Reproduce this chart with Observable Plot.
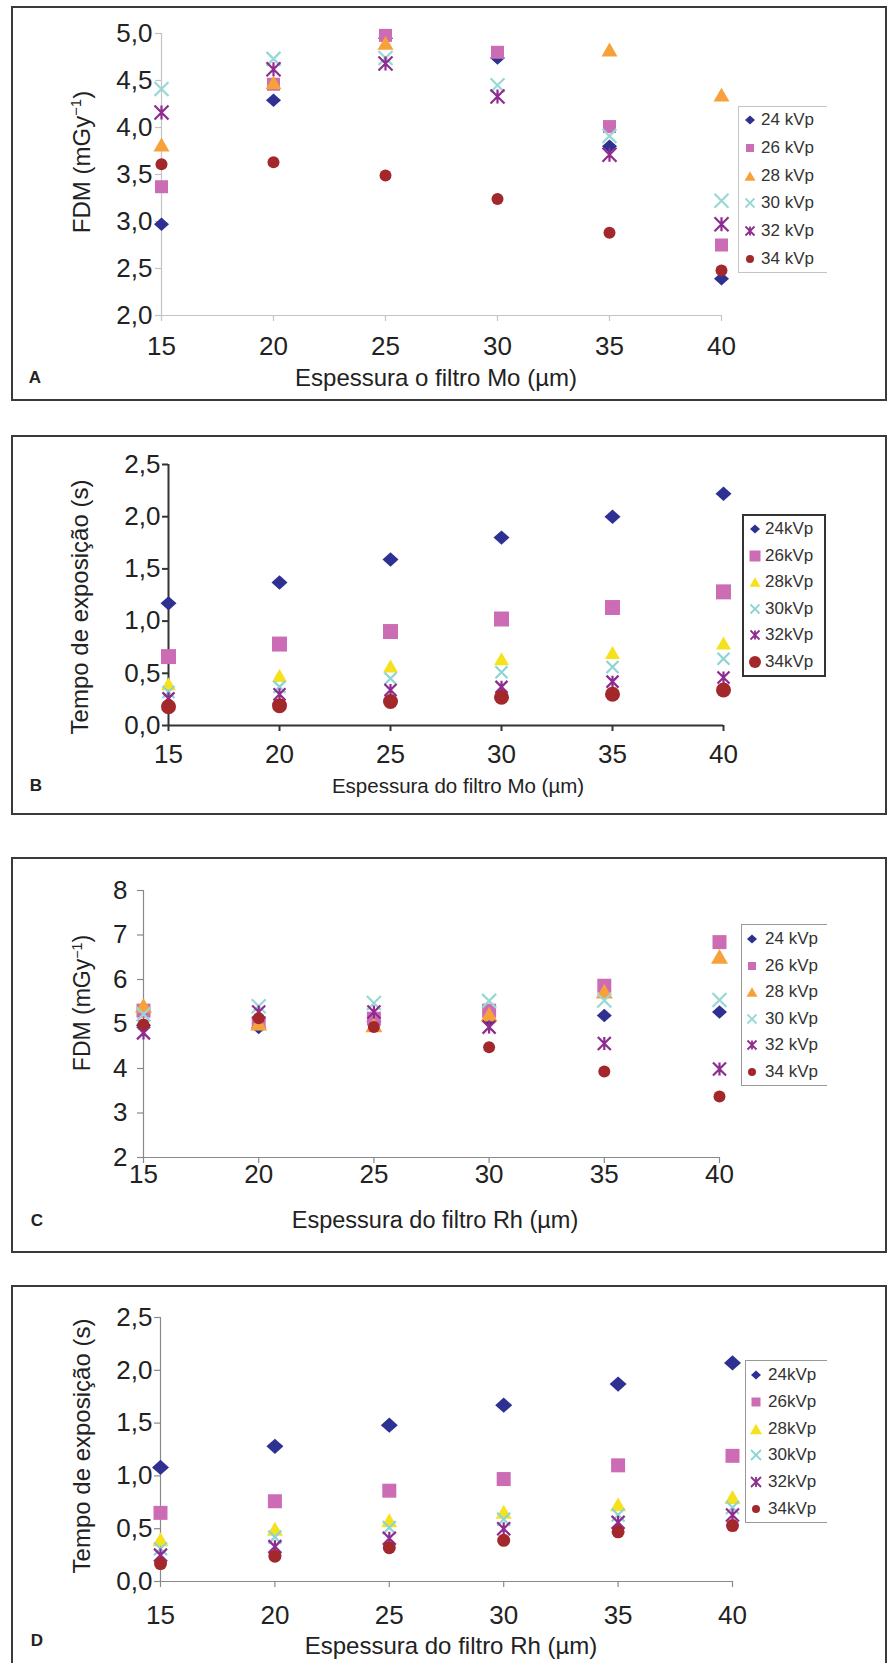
<!DOCTYPE html>
<html>
<head>
<meta charset="utf-8">
<script src="https://cdn.jsdelivr.net/npm/d3@7"></script>
<script src="https://cdn.jsdelivr.net/npm/@observablehq/plot@0.6"></script>
<style>
  html, body { margin: 0; padding: 0; background: #fff; }
  #page { position: relative; width: 888px; height: 1663px; overflow: hidden;
          font-family: "Liberation Sans", Arial, sans-serif; color: #222; }
  .box { position: absolute; border: 2px solid #3a3a3a; box-sizing: border-box; }
  .plotwrap { position: absolute; left: 0; }
  .abs { position: absolute; white-space: nowrap; line-height: 1.1; }
  .ytitle { transform: translate(-50%, -50%) rotate(-90deg); }
  .xtitle { transform: translate(-50%, -50%); }
  .letter { transform: translate(-50%, -50%); font-weight: bold; font-size: 17px; }
  .legbox { position: absolute; box-sizing: border-box; }
  .legtxt { position: absolute; transform: translateY(-50%); font-size: 17px; color: #333; white-space: nowrap; line-height: 1.1; }
  sup { font-size: 0.62em; vertical-align: 0.6em; line-height: 0; }
</style>
</head>
<body>
<div id="page"></div>
<script>
// ---------------- DATA ----------------
const thickness = [15, 20, 25, 30, 35, 40];
const kvpLabels = ["24 kVp", "26 kVp", "28 kVp", "30 kVp", "32 kVp", "34 kVp"];
const kvpLabelsCompact = ["24kVp", "26kVp", "28kVp", "30kVp", "32kVp", "34kVp"];

// A: FDM (mGy^-1) vs Mo filter thickness
const fdmMo24 = [2.97, 4.29, 4.95, 4.74, 3.80, 2.39];
const fdmMo26 = [3.37, 4.46, 4.98, 4.80, 4.01, 2.75];
const fdmMo28 = [3.82, 4.48, 4.90, null, 4.83, 4.35];
const fdmMo30 = [4.41, 4.73, 4.74, 4.45, 3.91, 3.22];
const fdmMo32 = [4.16, 4.62, 4.68, 4.33, 3.71, 2.97];
const fdmMo34 = [3.61, 3.63, 3.49, 3.24, 2.88, 2.48];

// B: exposure time (s) vs Mo filter thickness
const timeMo24 = [1.17, 1.37, 1.59, 1.80, 2.00, 2.22];
const timeMo26 = [0.66, 0.78, 0.90, 1.02, 1.13, 1.28];
const timeMo28 = [0.40, 0.48, 0.57, 0.64, 0.70, 0.79];
const timeMo30 = [0.32, 0.37, 0.45, 0.51, 0.56, 0.64];
const timeMo32 = [0.26, 0.30, 0.34, 0.37, 0.42, 0.46];
const timeMo34 = [0.18, 0.19, 0.23, 0.27, 0.30, 0.34];

// C: FDM (mGy^-1) vs Rh filter thickness
const fdmRh24 = [4.97, 4.92, 5.05, 5.08, 5.19, 5.27];
const fdmRh26 = [5.30, 5.02, 5.12, 5.30, 5.86, 6.84];
const fdmRh28 = [5.42, 5.02, 4.98, 5.22, 5.74, 6.52];
const fdmRh30 = [5.22, 5.40, 5.47, 5.52, 5.53, 5.54];
const fdmRh32 = [4.80, 5.27, 5.27, 4.93, 4.56, 3.99];
const fdmRh34 = [4.99, 5.13, 4.93, 4.48, 3.93, 3.37];

// D: exposure time (s) vs Rh filter thickness
const timeRh24 = [1.08, 1.28, 1.48, 1.67, 1.87, 2.07];
const timeRh26 = [0.65, 0.76, 0.86, 0.97, 1.10, 1.19];
const timeRh28 = [0.40, 0.50, 0.58, 0.66, 0.73, 0.80];
const timeRh30 = [0.31, 0.42, 0.51, 0.59, 0.63, 0.70];
const timeRh32 = [0.25, 0.33, 0.41, 0.50, 0.56, 0.63];
const timeRh34 = [0.17, 0.24, 0.32, 0.39, 0.47, 0.53];

const yTicksFdmMo = [2.0, 2.5, 3.0, 3.5, 4.0, 4.5, 5.0];
const yTicksTime = [0.0, 0.5, 1.0, 1.5, 2.0, 2.5];
const yTicksFdmRh = [2, 3, 4, 5, 6, 7, 8];

// ---------------- STYLE ----------------
const colorsOrange = ["#2e3192", "#cc6cb5", "#f7a13a", "#98d8d4", "#8e2c8f", "#a3282b"];
const colorsYellow = ["#2e3192", "#cc6cb5", "#f6e11e", "#8fd4d4", "#8e2c8f", "#a3282b"];
const kinds = ["diamond", "square", "triangle", "times", "star", "circle"];

function unit(size) { return Math.sqrt(size / Math.PI); }
const SYM = {
  diamond: { draw(c, size) { const s = unit(size), v = s * 0.9; c.moveTo(0, -v); c.lineTo(s, 0); c.lineTo(0, v); c.lineTo(-s, 0); c.closePath(); } },
  square: { draw(c, size) { const s = unit(size); c.moveTo(-s, -s); c.lineTo(s, -s); c.lineTo(s, s); c.lineTo(-s, s); c.closePath(); } },
  triangle: { draw(c, size) { const s = unit(size), h = s * 0.87; c.moveTo(0, -h); c.lineTo(s, h); c.lineTo(-s, h); c.closePath(); } },
  times: { draw(c, size) { const s = unit(size); c.moveTo(-s, -s); c.lineTo(s, s); c.moveTo(-s, s); c.lineTo(s, -s); } },
  star: { draw(c, size) { const s = unit(size); c.moveTo(-s, -s); c.lineTo(s, s); c.moveTo(-s, s); c.lineTo(s, -s); c.moveTo(0, -s); c.lineTo(0, s); } },
  circle: { draw(c, size) { const s = unit(size); c.moveTo(s, 0); c.arc(0, 0, s, 0, 2 * Math.PI); c.closePath(); } }
};
const isStroked = k => k === "times" || k === "star";
const commaFmt = d => d3.format(".1f")(d).replace(".", ",");

const page = document.getElementById("page");

function addDiv(cls, html, styles) {
  const d = document.createElement("div");
  d.className = cls;
  d.innerHTML = html;
  Object.assign(d.style, styles);
  page.appendChild(d);
  return d;
}

function panel(cfg) {
  addDiv("box", "", { left: "11px", top: cfg.boxTop + "px", width: (888 - 11 - 1) + "px", height: (cfg.boxBottom - cfg.boxTop) + "px" });

  const svgH = cfg.boxBottom - cfg.boxTop;
  const xFirst = thickness[0], xLast = thickness[thickness.length - 1];
  const marks = [
    Plot.ruleX([xFirst], { y1: cfg.yDomain[0], y2: cfg.yDomain[1], stroke: cfg.axisColor, strokeWidth: cfg.axisWidth }),
    Plot.ruleY([cfg.yDomain[0]], { x1: xFirst, x2: xLast, stroke: cfg.axisColor, strokeWidth: cfg.axisWidth }),
    Plot.axisX({ ticks: thickness, tickFormat: d => String(d), tickSize: 6, tickPadding: cfg.padX,
                 fontSize: cfg.tickFont, color: "#222", stroke: cfg.axisColor, strokeWidth: cfg.axisWidth, label: null }),
    Plot.axisY({ ticks: cfg.yTicks, tickFormat: cfg.yFmt, tickSize: 6, tickPadding: cfg.padY,
                 fontSize: cfg.tickFont, color: "#222", stroke: cfg.axisColor, strokeWidth: cfg.axisWidth, label: null })
  ];
  cfg.series.forEach((vals, i) => {
    const rows = thickness.map((x, j) => ({ x, y: vals[j] })).filter(d => d.y != null);
    const k = kinds[i];
    marks.push(Plot.dot(rows, {
      x: "x", y: "y", symbol: SYM[k], r: cfg.sizes[i],
      fill: isStroked(k) ? "none" : cfg.colors[i],
      stroke: isStroked(k) ? cfg.colors[i] : "none",
      strokeWidth: isStroked(k) ? 2.2 : 0
    }));
  });

  const chart = Plot.plot({
    width: 888, height: svgH,
    marginLeft: cfg.x0, marginRight: 888 - cfg.x1,
    marginTop: cfg.yTopPx - cfg.boxTop, marginBottom: cfg.boxBottom - cfg.yBotPx,
    x: { domain: [xFirst, xLast] },
    y: { domain: cfg.yDomain },
    style: { background: "none", fontFamily: "'Liberation Sans', Arial, sans-serif", overflow: "visible", color: "#222" },
    marks
  });
  const wrap = document.createElement("div");
  wrap.className = "plotwrap";
  wrap.style.top = cfg.boxTop + "px";
  wrap.appendChild(chart);
  page.appendChild(wrap);

  addDiv("abs ytitle", cfg.yTitle, { left: cfg.yTitlePos[0] + "px", top: cfg.yTitlePos[1] + "px", fontSize: cfg.yTitleFont + "px" });
  addDiv("abs xtitle", cfg.xTitle, { left: cfg.xTitlePos[0] + "px", top: cfg.xTitlePos[1] + "px", fontSize: cfg.xTitleFont + "px" });
  addDiv("abs letter", cfg.letter, { left: cfg.letterPos[0] + "px", top: cfg.letterPos[1] + "px" });

  const L = cfg.legend;
  addDiv("legbox", "", {
    left: L.left + "px", top: L.top + "px", width: L.w + "px", height: L.h + "px",
    borderTop: L.border, borderLeft: L.border, borderBottom: L.border, borderRight: L.closed ? L.border : "none"
  });
  cfg.labels.forEach((lab, i) => {
    const cy = L.top + L.first + i * L.step;
    const k = kinds[i];
    const p = d3.path();
    SYM[k].draw(p, Math.PI * L.ms[i] * L.ms[i]);
    const svg = d3.create("svg").attr("width", 20).attr("height", 20)
      .style("position", "absolute").style("left", (L.mx - 10) + "px").style("top", (cy - 10) + "px");
    svg.append("path").attr("transform", "translate(10,10)").attr("d", p.toString())
      .attr("fill", isStroked(k) ? "none" : cfg.colors[i])
      .attr("stroke", isStroked(k) ? cfg.colors[i] : "none")
      .attr("stroke-width", isStroked(k) ? 1.8 : 0);
    page.appendChild(svg.node());
    addDiv("legtxt", lab, { left: L.tx + "px", top: cy + "px" });
  });
}

// Panel A
panel({
  boxTop: 6, boxBottom: 401,
  x0: 161, x1: 721, yTopPx: 33, yBotPx: 315,
  yDomain: [2, 5], yTicks: yTicksFdmMo, yFmt: commaFmt,
  series: [fdmMo24, fdmMo26, fdmMo28, fdmMo30, fdmMo32, fdmMo34],
  colors: colorsOrange, sizes: [7.5, 6.5, 8, 7, 7, 6],
  axisColor: "#c4c4c4", axisWidth: 1.2, padX: 15, padY: 3, tickFont: 26,
  yTitleFont: 24, xTitleFont: 24,
  yTitle: "FDM (mGy<sup>−1</sup>)", yTitlePos: [82, 162],
  xTitle: "Espessura o filtro Mo (µm)", xTitlePos: [436, 378],
  letter: "A", letterPos: [35, 378],
  labels: kvpLabels,
  legend: { left: 738, top: 106, w: 89, h: 167, border: "1.5px solid #c4c4c4", closed: false,
            first: 14, step: 27.8, mx: 750, tx: 761, ms: [5, 4, 5.5, 4.5, 4.5, 4] }
});

// Panel B
panel({
  boxTop: 435, boxBottom: 815,
  x0: 168, x1: 723, yTopPx: 464, yBotPx: 725,
  yDomain: [0, 2.5], yTicks: yTicksTime, yFmt: commaFmt,
  series: [timeMo24, timeMo26, timeMo28, timeMo30, timeMo32, timeMo34],
  colors: colorsYellow, sizes: [8, 7.5, 7.5, 6, 6, 7.5],
  axisColor: "#333333", axisWidth: 2, padX: 13, padY: 2, tickFont: 26,
  yTitleFont: 24, xTitleFont: 20.5,
  yTitle: "Tempo de exposição (s)", yTitlePos: [80, 607],
  xTitle: "Espessura do filtro Mo (µm)", xTitlePos: [458, 786],
  letter: "B", letterPos: [36, 786],
  labels: kvpLabelsCompact,
  legend: { left: 742, top: 514, w: 84, h: 163, border: "2px solid #333", closed: true,
            first: 15, step: 26.6, mx: 755, tx: 765, ms: [5, 5.5, 5.5, 4.5, 4.5, 6] }
});

// Panel C
panel({
  boxTop: 857, boxBottom: 1253,
  x0: 143, x1: 719, yTopPx: 890, yBotPx: 1157,
  yDomain: [2, 8], yTicks: yTicksFdmRh, yFmt: d => String(d),
  series: [fdmRh24, fdmRh26, fdmRh28, fdmRh30, fdmRh32, fdmRh34],
  colors: colorsOrange, sizes: [7.5, 7, 8.5, 7, 6.5, 6],
  axisColor: "#8a8a8a", axisWidth: 1.2, padX: 1, padY: 10, tickFont: 26,
  yTitleFont: 23, xTitleFont: 23.5,
  yTitle: "FDM (mGy<sup>−1</sup>)", yTitlePos: [83, 1003],
  xTitle: "Espessura do filtro Rh (µm)", xTitlePos: [435, 1221],
  letter: "C", letterPos: [37, 1221],
  labels: kvpLabels,
  legend: { left: 741, top: 924, w: 86, h: 162, border: "1.5px solid #999", closed: false,
            first: 15, step: 26.6, mx: 752, tx: 765, ms: [5, 4, 5.5, 4.5, 4.5, 4] }
});

// Panel D
panel({
  boxTop: 1285, boxBottom: 1672,
  x0: 160, x1: 732, yTopPx: 1317, yBotPx: 1581,
  yDomain: [0, 2.5], yTicks: yTicksTime, yFmt: commaFmt,
  series: [timeRh24, timeRh26, timeRh28, timeRh30, timeRh32, timeRh34],
  colors: colorsYellow, sizes: [8.5, 7, 8, 6.5, 6.5, 6.5],
  axisColor: "#8a8a8a", axisWidth: 1.2, padX: 18, padY: 2, tickFont: 26,
  yTitleFont: 24, xTitleFont: 24,
  yTitle: "Tempo de exposição (s)", yTitlePos: [82, 1446],
  xTitle: "Espessura do filtro Rh (µm)", xTitlePos: [451, 1646],
  letter: "D", letterPos: [37, 1641],
  labels: kvpLabelsCompact,
  legend: { left: 745, top: 1360, w: 82, h: 163, border: "1.5px solid #999", closed: false,
            first: 15, step: 26.8, mx: 756, tx: 768, ms: [5, 4.5, 6, 5, 5, 4] }
});
</script>
</body>
</html>
